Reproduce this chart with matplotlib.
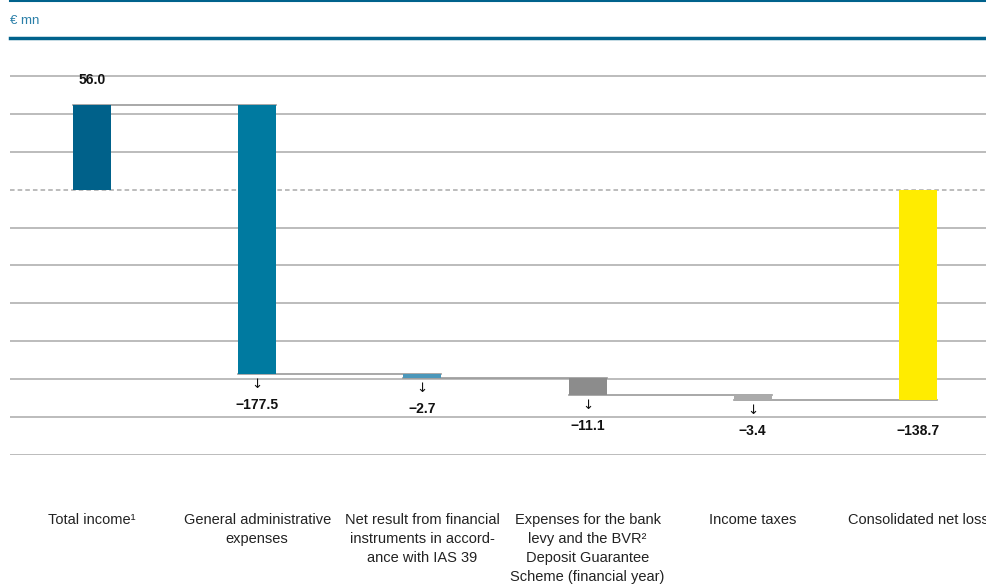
import matplotlib
matplotlib.use("Agg")
import matplotlib.pyplot as plt
from matplotlib.lines import Line2D
import numpy as np

plt.rcParams['font.family'] = ['Liberation Sans', 'DejaVu Sans']

categories = ["Total income\u00b9", "General administrative\nexpenses",
              "Net result from financial\ninstruments in accord-\nance with IAS 39",
              "Expenses for the bank\nlevy and the BVR\u00b2\nDeposit Guarantee\nScheme (financial year)",
              "Income taxes", "Consolidated net loss"]
changes = [56.0, -177.5, -2.7, -11.1, -3.4]
total = -138.7
value_labels = ["56.0", "\u2212177.5", "\u22122.7", "\u221211.1", "\u22123.4", "\u2212138.7"]
colors = ["#00618a", "#007aa0", "#4b97ba", "#8c8c8c", "#ababab", "#ffec00"]
yticks = [75, 50, 25, -25, -50, -75, -100, -125, -150, -175]

W, H = 987, 587
fig = plt.figure(figsize=(W / 100, H / 100), dpi=100)
ax = fig.add_axes([10 / W, 1 - 455 / H, 977 / W, (455 - 38) / H])

x = np.arange(len(categories))
ends = np.cumsum(changes)
starts = ends - np.array(changes)
bottoms = list(np.minimum(starts, ends)) + [min(0, total)]
heights = list(np.abs(changes)) + [abs(total)]
tops = [b + h for b, h in zip(bottoms, heights)]
bw = 0.23

ax.set_xlim(-0.496, 5.418)
ax.set_ylim(-175, 100)

for yv in yticks:
    ax.axhline(yv, color="#b0b0b0", lw=1.2, zorder=0)
ax.axhline(0, color="#aaaaaa", lw=1.1, ls=(0, (3, 2)), zorder=0)
ax.axhline(100, color="#00628c", lw=2.5, zorder=3, clip_on=False)

ax.bar(x, heights, bottom=bottoms, width=bw, color=colors, zorder=3)

# connectors
for i in range(len(changes)):
    lvl = ends[i]
    ax.plot([x[i] - bw / 2, x[i + 1] + bw / 2], [lvl, lvl],
            color="#999999", lw=1.2, zorder=2)

# value labels
for i in range(len(categories)):
    if i == 0:
        ax.annotate(value_labels[i], (x[i], tops[i]), xytext=(0, 18), textcoords="offset pixels",
                    ha="center", va="bottom", fontsize=10, fontweight="bold", color="#111111")
    else:
        if i < len(categories) - 1:
            ax.annotate("\u2193", (x[i], bottoms[i]), xytext=(0, -4), textcoords="offset pixels",
                        ha="center", va="top", fontsize=9.5, color="#111111",
                        family=['DejaVu Sans'])
        ax.annotate(value_labels[i], (x[i], bottoms[i]), xytext=(0, -24), textcoords="offset pixels",
                    ha="center", va="top", fontsize=10, fontweight="bold", color="#111111")

ax.set_xticks(x)
ax.set_xticklabels(categories, fontsize=10.5, color="#222222", linespacing=1.45)
ax.tick_params(axis="x", length=0, pad=42)
ax.set_yticks([])
for s in ax.spines.values():
    s.set_visible(False)

fig.add_artist(Line2D([10 / W, 1], [1 - 1 / H, 1 - 1 / H], color="#00628c", lw=1.5))
fig.text(10 / W, 1 - 21 / H, "\u20ac mn", fontsize=9.5, color="#2a7fa8", va="center", ha="left")

fig.savefig("out.png", dpi=100)
